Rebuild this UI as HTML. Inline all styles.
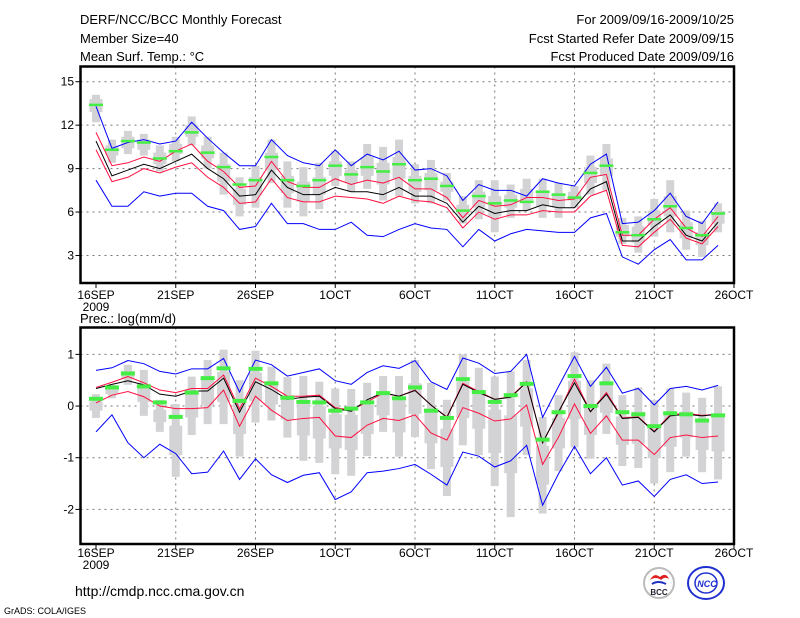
<!DOCTYPE html>
<html><head><meta charset="utf-8"><style>
html,body{margin:0;padding:0;background:#fff;}
svg{display:block;font-family:"Liberation Sans",sans-serif;}
</style></head><body>
<svg id="chart" width="800" height="618" viewBox="0 0 800 618" xmlns="http://www.w3.org/2000/svg">
<rect width="800" height="618" fill="#fff"/>
<g font-size="13" fill="#000">
<text x="80" y="24">DERF/NCC/BCC Monthly Forecast</text>
<text x="80" y="43">Member Size=40</text>
<text x="80" y="61">Mean Surf. Temp.: °C</text>
<text x="734" y="24" text-anchor="end">For 2009/09/16-2009/10/25</text>
<text x="734" y="43" text-anchor="end">Fcst Started Refer Date 2009/09/15</text>
<text x="734" y="61" text-anchor="end">Fcst Produced Date 2009/09/16</text>
<text x="80" y="323">Prec.: log(mm/d)</text>
<text x="75" y="596" font-size="14">http://cmdp.ncc.cma.gov.cn</text>
<text x="4" y="614" font-size="9">GrADS: COLA/IGES</text>
</g>
<g>
<circle cx="659" cy="583" r="15" fill="#fff" stroke="#bbb" stroke-width="2"/>
<path d="M650 580 q4 -8 10 -3 q6 -5 9 2 q-4 -3 -8 1 q-5 -4 -11 0z" fill="#e02020"/>
<path d="M652 584 q6 -4 14 0" stroke="#2030c0" stroke-width="2" fill="none"/>
<text x="659" y="595" font-size="8" text-anchor="middle" font-weight="bold" fill="#223">BCC</text>
</g>
<g>
<ellipse cx="706" cy="583" rx="18" ry="16" fill="#fff" stroke="#2030d0" stroke-width="2"/>
<ellipse cx="706" cy="583" rx="11" ry="10" fill="none" stroke="#2030d0" stroke-width="1.5"/>
<text x="707" y="587" font-size="9" text-anchor="middle" font-weight="bold" font-style="italic" fill="#2030d0">NCC</text>
</g>
<g id="top"></g>
<g id="bot"></g>
</svg>
<script>
// ---- Temperature panel data (days 16SEP..25OCT) ----
const tMax=[13.3,10.4,10.8,11.0,10.7,10.9,12.2,11.1,10.1,9.2,9.2,11.0,9.9,9.4,9.2,10.3,9.2,10.0,9.6,10.2,8.9,9.0,8.5,6.8,7.9,7.5,7.5,7.1,8.3,8.0,7.8,9.3,10.0,5.2,5.3,6.1,7.3,5.7,5.2,6.7];
const tUp=[11.5,9.2,9.4,9.8,9.5,10.2,10.7,9.5,8.8,7.7,7.8,9.5,8.1,7.7,7.7,8.3,7.9,8.2,8.0,8.4,7.6,7.6,7.0,5.6,6.8,6.4,6.5,7.0,7.0,6.8,6.9,8.4,8.6,4.4,4.4,5.5,6.3,4.9,4.3,5.7];
const tMean=[10.9,8.5,8.9,9.3,9.0,9.5,10.0,9.0,8.3,7.1,7.2,8.9,7.7,7.2,7.2,7.7,7.4,7.4,7.2,7.7,7.1,7.1,6.6,5.3,6.4,5.9,6.1,6.1,6.5,6.3,6.3,7.6,8.1,4.0,4.0,5.0,5.8,4.4,4.0,5.3];
const tLo=[10.3,8.1,8.4,9.0,8.7,9.1,9.4,8.4,7.7,6.6,6.7,8.3,7.0,6.7,6.7,7.1,7.0,6.9,6.6,7.1,6.8,6.7,6.3,4.9,6.0,5.5,5.8,5.8,6.1,6.0,6.0,7.1,7.5,3.7,3.6,4.6,5.5,4.2,3.8,5.0];
const tMin=[8.2,6.4,6.4,7.4,7.1,7.3,7.3,6.4,6.1,4.8,5.0,6.6,5.2,5.2,4.8,4.8,5.3,4.4,4.3,4.8,5.2,4.9,4.8,3.6,4.8,4.0,4.5,4.8,4.7,4.6,4.6,5.6,5.9,2.9,2.4,3.4,4.1,2.7,2.7,3.7];
const tObs=[13.4,10.3,10.9,10.8,9.7,10.2,11.5,10.1,9.1,7.9,8.2,9.8,8.2,7.8,8.2,9.2,8.6,9.1,8.8,9.3,8.2,8.3,7.8,6.1,7.1,6.6,6.8,6.7,7.4,7.2,7.0,8.7,9.2,4.6,4.4,5.5,6.4,4.9,4.4,5.9];
const tBarHi=[14.1,11.0,11.6,11.4,10.6,11.2,12.6,11.2,10.1,8.4,9.2,11.0,9.5,9.1,9.4,10.2,9.5,10.7,10.5,11.0,9.3,9.6,8.7,7.1,8.2,8.2,7.9,8.3,8.3,8.0,7.8,9.9,10.7,5.6,5.7,6.9,8.2,6.1,5.4,6.6];
const tBarLo=[12.2,9.4,10.0,9.9,8.8,9.5,10.6,9.0,7.2,5.7,6.3,8.0,6.3,5.7,6.2,7.8,7.4,7.6,6.8,7.1,6.6,6.6,6.8,5.2,5.5,4.6,5.6,6.1,5.6,5.6,6.3,7.2,7.5,3.8,3.2,4.3,4.6,3.4,2.9,4.6];
const tBoxHi=[13.8,10.6,11.2,11.0,10.1,10.7,12.0,10.6,9.3,7.6,8.4,10.1,8.5,8.1,8.4,9.5,8.9,9.8,9.4,9.8,8.5,8.7,8.1,6.5,7.4,7.1,7.2,7.6,7.5,7.3,7.4,9.1,9.7,5.1,5.0,6.1,7.1,5.3,4.6,6.0];
const tBoxLo=[12.9,9.9,10.4,10.3,9.3,10.0,11.2,9.7,8.1,6.5,7.2,8.9,7.3,6.7,7.2,8.5,8.0,8.5,7.9,8.3,7.4,7.5,7.4,5.8,6.3,5.7,6.3,6.8,6.4,6.3,6.8,8.0,8.5,4.3,3.9,5.1,5.7,4.2,3.7,5.2];
const tTicks=[3,6,9,12,15];
// ---- Precipitation panel data ----
const pMax=[0.69,0.74,0.88,0.82,0.67,0.62,0.72,0.72,0.92,0.27,0.89,0.80,0.58,0.65,0.72,0.49,0.42,0.65,0.78,0.73,0.88,0.47,0.32,0.93,0.83,0.63,0.67,1.0,-0.22,0.38,0.96,0.38,0.75,0.25,0.34,0.02,0.34,0.38,0.31,0.40];
const pUp=[0.36,0.46,0.57,0.45,0.31,0.26,0.34,0.34,0.60,-0.06,0.54,0.38,0.19,0.19,0.21,-0.03,-0.08,0.08,0.25,0.19,0.31,0.02,-0.21,0.44,0.28,0.13,0.18,0.47,-0.71,-0.13,0.52,-0.11,0.26,-0.23,-0.21,-0.49,-0.17,-0.14,-0.18,-0.16];
const pMean=[0.34,0.42,0.49,0.41,0.23,0.19,0.29,0.29,0.54,-0.12,0.47,0.32,0.13,0.17,0.19,-0.05,-0.10,0.12,0.26,0.19,0.30,0.02,-0.22,0.42,0.26,0.13,0.17,0.46,-0.71,-0.11,0.45,-0.11,0.23,-0.24,-0.22,-0.50,-0.19,-0.16,-0.19,-0.16];
const pLo=[0.06,0.21,0.28,0.18,0.0,-0.05,-0.05,-0.03,0.31,-0.39,0.19,-0.08,-0.28,-0.24,-0.22,-0.58,-0.61,-0.37,-0.24,-0.28,-0.17,-0.52,-0.66,-0.03,-0.14,-0.29,-0.25,0.02,-1.13,-0.60,0.04,-0.53,-0.19,-0.66,-0.66,-0.94,-0.61,-0.56,-0.61,-0.58];
const pMin=[-0.50,-0.17,-0.71,-1.0,-0.74,-0.92,-1.31,-1.28,-0.87,-1.42,-1.02,-1.33,-1.48,-1.34,-1.29,-1.81,-1.66,-1.29,-1.26,-1.21,-1.13,-1.32,-1.53,-0.89,-0.97,-1.18,-1.06,-0.76,-1.92,-1.31,-0.78,-1.31,-1.0,-1.53,-1.45,-1.75,-1.42,-1.33,-1.50,-1.47];
const pObs=[0.14,0.36,0.63,0.38,0.07,-0.21,0.26,0.54,0.73,0.10,0.72,0.44,0.16,0.08,0.07,-0.09,-0.05,0.07,0.25,0.15,0.36,-0.09,-0.23,0.52,0.27,0.08,0.21,0.43,-0.65,-0.12,0.58,0.0,0.44,-0.12,-0.16,-0.39,-0.14,-0.16,-0.28,-0.18];
const pBarHi=[0.23,0.41,0.80,0.70,0.12,0.04,0.57,0.89,1.09,0.50,1.07,0.76,0.56,0.58,0.47,0.34,0.33,0.45,0.58,0.58,0.89,0.45,0.12,1.0,0.74,0.57,0.67,0.89,-0.21,0.21,1.04,0.50,0.82,0.21,0.36,0.12,0.34,0.26,0.16,0.38];
const pBarLo=[-0.23,0.15,0.41,-0.19,-0.50,-1.37,-0.56,-0.35,-0.35,-0.98,-0.32,-0.28,-0.61,-1.06,-1.10,-1.32,-1.35,-0.97,-0.50,-0.98,-0.60,-1.22,-1.74,-0.76,-0.95,-1.55,-2.15,-0.95,-2.08,-1.26,-0.80,-1.02,-0.54,-1.16,-1.20,-1.50,-1.28,-0.98,-1.28,-1.42];
const pBoxHi=[0.09,0.33,0.68,0.43,-0.07,-0.38,0.23,0.52,0.66,0.06,0.65,0.45,0.21,0.09,0.0,-0.16,-0.17,0.02,0.26,0.11,0.44,-0.05,-0.44,0.47,0.23,-0.07,-0.18,0.34,-0.77,-0.23,0.49,0.04,0.41,-0.20,-0.11,-0.37,-0.15,-0.11,-0.27,-0.16];
const pBoxLo=[-0.09,0.23,0.53,0.08,-0.31,-0.95,-0.22,0.02,0.08,-0.54,0.10,0.03,-0.26,-0.57,-0.63,-0.82,-0.85,-0.54,-0.18,-0.51,-0.15,-0.72,-1.18,-0.23,-0.44,-0.91,-1.30,-0.40,-1.52,-0.82,-0.25,-0.56,-0.13,-0.75,-0.73,-1.01,-0.79,-0.61,-0.85,-0.88];
const pTicks=[-2,-1,0,1];
const xTickLabels=["16SEP","21SEP","26SEP","1OCT","6OCT","11OCT","16OCT","21OCT","26OCT"];

const NS="http://www.w3.org/2000/svg";
const X0=96, DX=15.95;
function xs(d){return X0+d*DX;}
function mk(tag,attrs,parent){const e=document.createElementNS(NS,tag);for(const k in attrs)e.setAttribute(k,attrs[k]);parent.appendChild(e);return e;}

function panel(g,top,bot,vTop,vBot,ticks,series,lineW,obsH,labY){
  const ys=v=>top+(vTop-v)/(vTop-vBot)*(bot-top);
  const L=80.5,R=734;
  // grid
  ticks.forEach(t=>{
    const l=mk('line',{x1:L,x2:R,y1:ys(t),y2:ys(t),stroke:'#777','stroke-dasharray':'2,4','stroke-width':1},g);
    
    
    const tx=mk('text',{x:74,y:ys(t)+4,'text-anchor':'end','font-size':12},g);
    tx.textContent=String(t);
    
    
    mk('line',{x1:L-5,x2:L,y1:ys(t),y2:ys(t),stroke:'#000'},g);
  });
  xTickLabels.forEach((lab,i)=>{
    const x=xs(i*5);
    if(i>0&&i<8){const l=mk('line',{x1:x,x2:x,y1:top,y2:bot,stroke:'#777','stroke-dasharray':'2,4','stroke-width':1},g);
      
      }
    mk('line',{x1:x,x2:x,y1:bot,y2:bot+5,stroke:'#000'},g);
    const tx=mk('text',{x:x,y:labY,'text-anchor':'middle','font-size':12},g);
    tx.textContent=lab;
    
    
  });
  const yr=mk('text',{x:xs(0),y:labY+12,'text-anchor':'middle','font-size':12},g);
  yr.textContent='2009';
  
  
  // bars
  series.barHi.forEach((h,d)=>{
    const x=xs(d);
    const b=mk('rect',{x:x-4,y:ys(h),width:8,height:ys(series.barLo[d])-ys(h),fill:'#d3d3d6'},g);
    
    
    const q=mk('rect',{x:x-6.5,y:ys(series.boxHi[d]),width:13,height:ys(series.boxLo[d])-ys(series.boxHi[d]),fill:'#d3d3d6'},g);
    
    
  });
  // lines
  [['max',series.max,'#0000ff','max-line'],['up',series.up,'#ff1040','upper-line'],['lo',series.lo,'#ff1040','lower-line'],['min',series.min,'#0000ff','min-line'],['mean',series.mean,'#000','mean-line']].forEach(s=>{
    const p=mk('polyline',{points:s[1].map((v,d)=>xs(d)+','+ys(v)).join(' '),fill:'none',stroke:s[2],'stroke-width':lineW},g);
    
    
  });
  series.obs.forEach((v,d)=>{
    const r=mk('rect',{x:xs(d)-7,y:ys(v)-obsH/2,width:14,height:obsH,fill:'#44ee44'},g);
    
    
  });
  // frame
  const f=mk('rect',{x:L,y:top,width:R-L,height:bot-top,fill:'none',stroke:'#000','stroke-width':2.5},g);
  
  
}
panel(document.getElementById('top'),66.5,283,16.05,1.1,tTicks,
  {max:tMax,up:tUp,mean:tMean,lo:tLo,min:tMin,obs:tObs,barHi:tBarHi,barLo:tBarLo,boxHi:tBoxHi,boxLo:tBoxLo},1,2.5,299);
panel(document.getElementById('bot'),327.5,544,1.52,-2.67,pTicks,
  {max:pMax,up:pUp,mean:pMean,lo:pLo,min:pMin,obs:pObs,barHi:pBarHi,barLo:pBarLo,boxHi:pBoxHi,boxLo:pBoxLo},1,4,557);
</script>
</body></html>
